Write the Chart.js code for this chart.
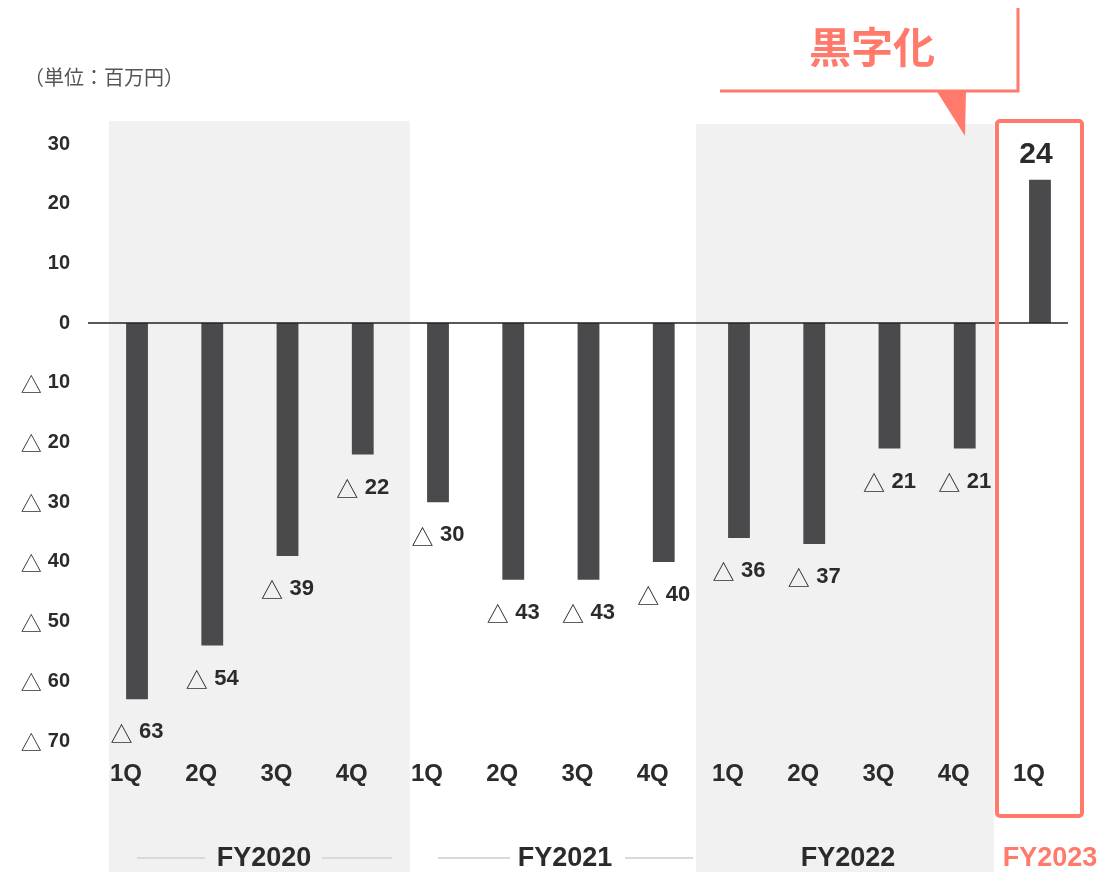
<!DOCTYPE html>
<html>
<head>
<meta charset="utf-8">
<script src="https://cdn.jsdelivr.net/npm/chart.js@4"></script>
<style>
  body { margin: 0; background: #fff; }
  #wrap { width: 1101px; height: 872px; }
</style>
</head>
<body>
<div id="wrap"><canvas id="profitChart"></canvas></div>
<script>
// 四半期ごとの営業損益（百万円）
const quarters = ['1Q', '2Q', '3Q', '4Q', '1Q', '2Q', '3Q', '4Q', '1Q', '2Q', '3Q', '4Q', '1Q'];
const profit = [-63, -54, -39, -22, -30, -43, -43, -40, -36, -37, -21, -21, 24];
const fiscalYears = ['FY2020', 'FY2021', 'FY2022', 'FY2023'];
const yearStart = [0, 4, 8, 12]; // 各年度の最初のバー
const yearEnd = [3, 7, 11, 12];
const yMin = -70, yMax = 30, yStep = 10;

const BAR = '#4a4a4c';
const TEXT = '#2b2b2b';
const SALMON = '#ff7a6b';
const NUM_FONT = '"Liberation Sans", Arial, sans-serif';
const TRI_FONT = '"Noto Sans CJK JP", "DejaVu Sans", sans-serif';

// △ + 数字（△は細字、数字は太字）
function drawNeg(ctx, value, x, y, align, size, triSize) {
  ctx.font = 'normal ' + triSize + 'px ' + TRI_FONT;
  const tw = ctx.measureText('△').width;
  ctx.font = 'bold ' + size + 'px ' + NUM_FONT;
  const nw = ctx.measureText(String(value)).width;
  const gap = size * 0.3;
  const total = tw + gap + nw;
  let left = align === 'right' ? x - total : x - total / 2;
  ctx.textBaseline = 'middle';
  ctx.textAlign = 'left';
  ctx.fillStyle = TEXT;
  ctx.font = 'normal ' + triSize + 'px ' + TRI_FONT;
  ctx.fillText('△', left, y + 1);
  ctx.font = 'bold ' + size + 'px ' + NUM_FONT;
  ctx.fillText(String(value), left + tw + gap, y);
}

const decor = {
  id: 'decor',
  beforeDraw(chart) {
    const ctx = chart.ctx;
    const x = chart.scales.x;
    ctx.save();
    ctx.fillStyle = '#f1f1f1';
    // FY2020 と FY2022 の背景
    const a0 = x.getPixelForValue(yearStart[0]) - 28;
    const a1 = x.getPixelForValue(yearEnd[0]) + 47;
    ctx.fillRect(a0, 121, a1 - a0, 872 - 121);
    const b0 = x.getPixelForValue(yearStart[2]) - 43;
    const b1 = x.getPixelForValue(yearEnd[2]) + 29;
    ctx.fillRect(b0, 124, b1 - b0, 872 - 124);
    ctx.restore();
  },
  afterDatasetsDraw(chart) {
    const ctx = chart.ctx;
    const x = chart.scales.x;
    const y = chart.scales.y;
    ctx.save();

    // ゼロ線
    const y0 = y.getPixelForValue(0);
    ctx.strokeStyle = '#222';
    ctx.lineWidth = 1.5;
    ctx.beginPath();
    ctx.moveTo(88, y0);
    ctx.lineTo(1068, y0);
    ctx.stroke();

    // 目盛り
    y.ticks.forEach(t => {
      const py = y.getPixelForValue(t.value);
      if (t.value < 0) {
        drawNeg(ctx, -t.value, 70, py, 'right', 20, 21);
      } else {
        ctx.font = 'bold 20px ' + NUM_FONT;
        ctx.fillStyle = TEXT;
        ctx.textAlign = 'right';
        ctx.textBaseline = 'middle';
        ctx.fillText(String(t.value), 70, py);
      }
    });

    // データラベル
    const meta = chart.getDatasetMeta(0);
    meta.data.forEach((bar, i) => {
      const v = profit[i];
      if (v < 0) {
        drawNeg(ctx, -v, bar.x, bar.y + 33, 'center', 22, 22);
      } else {
        ctx.font = 'bold 30px ' + NUM_FONT;
        ctx.fillStyle = TEXT;
        ctx.textAlign = 'center';
        ctx.textBaseline = 'middle';
        ctx.fillText(String(v), bar.x - 4, bar.y - 25);
      }
    });

    // 年度ラベル
    const fyY = 859;
    const centers = [264, 565, 848, 1050];
    ctx.font = 'bold 27px ' + NUM_FONT;
    ctx.textBaseline = 'middle';
    ctx.textAlign = 'center';
    fiscalYears.forEach((fy, k) => {
      ctx.fillStyle = k === 3 ? SALMON : TEXT;
      ctx.fillText(fy, centers[k], fyY);
    });
    ctx.strokeStyle = '#d9d9d9';
    ctx.lineWidth = 2;
    [[137, 205], [322, 392], [438, 510], [625, 693]].forEach(s => {
      ctx.beginPath();
      ctx.moveTo(s[0], fyY - 1);
      ctx.lineTo(s[1], fyY - 1);
      ctx.stroke();
    });

    // FY2023 の枠
    const bx = x.getPixelForValue(yearStart[3]);
    ctx.strokeStyle = SALMON;
    ctx.lineWidth = 4;
    ctx.beginPath();
    ctx.roundRect(bx - 43, 121, 85, 695, 3);
    ctx.stroke();

    // 吹き出し「黒字化」
    ctx.lineWidth = 3;
    ctx.beginPath();
    ctx.moveTo(1018, 8);
    ctx.lineTo(1018, 91);
    ctx.lineTo(720, 91);
    ctx.stroke();
    ctx.fillStyle = SALMON;
    ctx.beginPath();
    ctx.moveTo(936, 90);
    ctx.lineTo(966, 90);
    ctx.lineTo(965, 136);
    ctx.closePath();
    ctx.fill();
    ctx.font = 'bold 42px "Noto Sans CJK JP", sans-serif';
    ctx.textAlign = 'center';
    ctx.textBaseline = 'middle';
    ctx.fillText('黒字化', 872, 47);

    // 単位
    ctx.font = 'normal 20px "Noto Sans CJK JP", sans-serif';
    ctx.fillStyle = '#555';
    ctx.textAlign = 'left';
    ctx.fillText('（単位：百万円）', 24, 77);

    ctx.restore();
  }
};

const ctx1 = document.getElementById('profitChart').getContext('2d');
const profitChart = new Chart(ctx1, {
  type: 'bar',
  data: {
    labels: quarters,
    datasets: [{
      label: '営業損益',
      data: profit,
      backgroundColor: BAR,
      categoryPercentage: 1,
      barPercentage: 0.29
    }]
  },
  options: {
    responsive: true,
    maintainAspectRatio: false,
    animation: false,
    layout: { padding: { top: 144, right: 23.4, left: 0, bottom: 0 } },
    plugins: { legend: { display: false }, tooltip: { enabled: false } },
    scales: {
      x: {
        grid: { display: false, drawTicks: false },
        border: { display: false },
        ticks: {
          padding: 19,
          labelOffset: -11,
          color: TEXT,
          font: { family: NUM_FONT, size: 24, weight: 'bold' },
          maxRotation: 0,
          autoSkip: false
        },
        afterFit(scale) { scale.height = 131; }
      },
      y: {
        min: yMin,
        max: yMax,
        grid: { display: false, drawTicks: false },
        border: { display: false },
        ticks: {
          stepSize: yStep,
          color: 'rgba(0,0,0,0)',
          font: { family: NUM_FONT, size: 18, weight: 'bold' }
        },
        afterFit(scale) { scale.width = 99.4; }
      }
    }
  },
  plugins: [decor]
});
</script>
</body>
</html>
